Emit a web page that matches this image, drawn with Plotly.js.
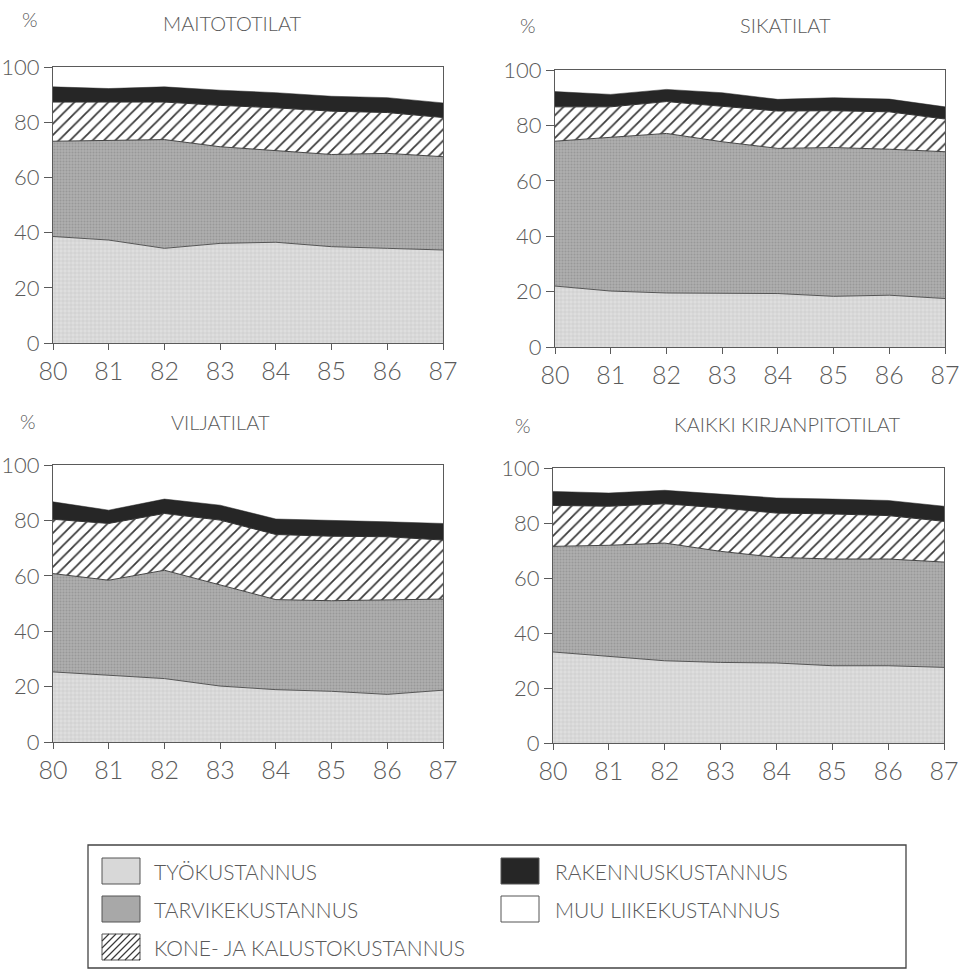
<!DOCTYPE html>
<html><head><meta charset="utf-8">
<script src="https://cdn.plot.ly/plotly-3.0.1.min.js"></script>
<style>html,body{margin:0;padding:0;background:#fff}</style>
</head><body><div id="chart" style="width:964px;height:971px"></div>
<script>
// ---- data ----
const years = [80, 81, 82, 83, 84, 85, 86, 87];
const yTicks = [0, 20, 40, 60, 80, 100];
const panelTitles = ["MAITOTOTILAT", "SIKATILAT", "VILJATILAT", "KAIKKI KIRJANPITOTILAT"];
const seriesNames = ["TYÖKUSTANNUS", "TARVIKEKUSTANNUS", "KONE- JA KALUSTOKUSTANNUS", "RAKENNUSKUSTANNUS", "MUU LIIKEKUSTANNUS"];

// shares of total costs, % (MAITOTOTILAT)
const maitoTyo      = [38.6, 37.3, 34.3, 36.1, 36.5, 34.9, 34.3, 33.7];
const maitoTarvike  = [34.5, 36.0, 39.4, 35.0, 33.1, 33.4, 34.4, 33.8];
const maitoKone     = [14.2, 14.0, 13.6, 15.0, 15.6, 15.7, 14.8, 14.2];
const maitoRakennus = [5.5, 4.9, 5.5, 5.5, 5.5, 5.4, 5.4, 5.3];
const maitoMuu      = [7.2, 7.8, 7.2, 8.4, 9.3, 10.6, 11.1, 13.0];
// SIKATILAT
const sikaTyo      = [22.0, 20.2, 19.5, 19.3, 19.3, 18.3, 18.7, 17.5];
const sikaTarvike  = [52.3, 55.5, 57.6, 54.8, 52.4, 53.7, 52.7, 53.0];
const sikaKone     = [12.4, 11.0, 11.5, 12.9, 13.5, 13.3, 13.5, 11.8];
const sikaRakennus = [5.5, 4.5, 4.4, 4.8, 4.2, 4.7, 4.6, 4.4];
const sikaMuu      = [7.8, 8.8, 7.0, 8.2, 10.6, 10.0, 10.5, 13.3];
// VILJATILAT
const viljaTyo      = [25.3, 24.1, 22.9, 20.2, 18.9, 18.3, 17.2, 18.7];
const viljaTarvike  = [35.5, 34.3, 39.1, 36.4, 32.5, 32.7, 34.0, 32.9];
const viljaKone     = [19.6, 20.5, 20.5, 23.5, 23.5, 23.3, 22.9, 21.3];
const viljaRakennus = [6.3, 4.8, 5.2, 5.4, 5.6, 5.8, 5.4, 6.0];
const viljaMuu      = [13.3, 16.3, 12.3, 14.5, 19.5, 19.9, 20.5, 21.1];
// KAIKKI KIRJANPITOTILAT
const kaikkiTyo      = [33.1, 31.5, 29.9, 29.3, 29.1, 28.1, 28.1, 27.5];
const kaikkiTarvike  = [38.4, 40.4, 42.8, 40.4, 38.4, 38.8, 38.8, 38.3];
const kaikkiKone     = [14.9, 14.2, 14.3, 15.8, 16.1, 16.4, 15.8, 14.8];
const kaikkiRakennus = [5.1, 4.8, 4.9, 5.0, 5.5, 5.4, 5.5, 5.5];
const kaikkiMuu      = [8.5, 9.1, 8.1, 9.5, 10.9, 11.3, 11.8, 13.9];

const panels = [
  [maitoTyo, maitoTarvike, maitoKone, maitoRakennus, maitoMuu],
  [sikaTyo, sikaTarvike, sikaKone, sikaRakennus, sikaMuu],
  [viljaTyo, viljaTarvike, viljaKone, viljaRakennus, viljaMuu],
  [kaikkiTyo, kaikkiTarvike, kaikkiKone, kaikkiRakennus, kaikkiMuu]
];

// ---- styling ----
const W = 964, H = 971;
const F = "Lato, 'Open Sans', Roboto, 'DejaVu Sans', sans-serif";
const TXT = '#5a5a5a';
const AX = '#5a5a5a';
const px = v => v / W, py = v => 1 - v / H;

const styles = [
  {fillcolor: '#dcdcdc', fillpattern: {shape: '+', size: 4, solidity: 0.25, bgcolor: '#dedede', fgcolor: '#c4c4c4'}, line: {color: '#555', width: 1}},
  {fillcolor: '#aaaaaa', fillpattern: {shape: '.', size: 3, solidity: 0.35, bgcolor: '#afafaf', fgcolor: '#989898'}, line: {color: '#444', width: 1}},
  {fillcolor: '#ffffff', fillpattern: {shape: '/', size: 8, solidity: 0.22, bgcolor: '#ffffff', fgcolor: '#3a3a3a'}, line: {color: '#333', width: 1}},
  {fillcolor: '#262626', line: {color: '#262626', width: 0.5}},
  {fillcolor: 'rgba(255,255,255,0)', line: {width: 0}}
];

// panel boxes in pixels [x0, x1, yTop, yBottom]
const boxes = [[53, 443, 67, 343], [555, 945, 70, 347], [53, 443, 465, 742], [553, 944, 468, 743]];
const titlePos = [[232, 23], [785, 25], [220, 422], [787, 424]];
const pctPos = [[30, 19], [528, 25], [28, 421], [523, 425]];

const traces = [];
const layout = {
  width: W, height: H, margin: {l: 0, r: 0, t: 0, b: 0},
  paper_bgcolor: '#fff', plot_bgcolor: '#fff', showlegend: false,
  annotations: [], shapes: []
};

panels.forEach((series, p) => {
  const sfx = p === 0 ? '' : String(p + 1);
  series.forEach((vals, s) => {
    traces.push(Object.assign({
      type: 'scatter', mode: 'lines', x: years, y: vals, name: seriesNames[s],
      stackgroup: 'g' + p, xaxis: 'x' + sfx, yaxis: 'y' + sfx, hoverinfo: 'skip'
    }, JSON.parse(JSON.stringify(styles[s]))));
  });
  const b = boxes[p];
  layout['xaxis' + sfx] = {
    domain: [px(b[0]), px(b[1])], anchor: 'y' + sfx, range: [80, 87],
    tickvals: years, ticktext: years.map(String), ticks: 'outside', ticklen: 6,
    tickcolor: AX, tickwidth: 1, showline: true, mirror: true, linecolor: AX, linewidth: 1,
    showgrid: false, zeroline: false, fixedrange: true,
    tickfont: {family: F, size: 25, color: TXT, weight: 300}
  };
  layout['yaxis' + sfx] = {
    domain: [py(b[3]), py(b[2])], anchor: 'x' + sfx, range: [0, 100],
    tickvals: yTicks, ticks: 'outside', ticklen: 8,
    tickcolor: AX, tickwidth: 1, showline: true, mirror: true, linecolor: AX, linewidth: 1,
    showgrid: false, zeroline: false, fixedrange: true,
    tickfont: {family: F, size: 22, color: TXT, weight: 300}
  };
  layout.annotations.push({
    xref: 'paper', yref: 'paper', x: px(titlePos[p][0]), y: py(titlePos[p][1]),
    xanchor: 'center', yanchor: 'middle', showarrow: false, text: panelTitles[p],
    font: {family: F, size: 20, color: TXT, weight: 300}
  });
  layout.annotations.push({
    xref: 'paper', yref: 'paper', x: px(pctPos[p][0]), y: py(pctPos[p][1]),
    xanchor: 'center', yanchor: 'middle', showarrow: false, text: '%',
    font: {family: F, size: 20, color: TXT, weight: 300}
  });
});

// ---- legend (drawn as a boxed key below the panels) ----
const legBox = [88, 906, 845, 968];
layout.shapes.push({type: 'rect', xref: 'paper', yref: 'paper',
  x0: px(legBox[0]), x1: px(legBox[1]), y0: py(legBox[3]), y1: py(legBox[2]),
  line: {color: '#444', width: 1.3}, fillcolor: 'rgba(0,0,0,0)', layer: 'above'});

const legendItems = [
  {s: 0, col: 0, row: 0}, {s: 1, col: 0, row: 1}, {s: 2, col: 0, row: 2},
  {s: 3, col: 1, row: 0}, {s: 4, col: 1, row: 1}
];
const colSwX = [102, 501], colTxtX = [152, 553];
const rowTop = [858, 896, 934];
const swW = 38, swH = 26;
const swFill = ['#d8d8d8', '#a8a8a8', '#ffffff', '#262626', '#ffffff'];

legendItems.forEach(it => {
  const x0 = colSwX[it.col], y0 = rowTop[it.row];
  const x1 = x0 + swW, y1 = y0 + swH;
  layout.shapes.push({type: 'rect', xref: 'paper', yref: 'paper',
    x0: px(x0), x1: px(x1), y0: py(y1), y1: py(y0),
    line: {color: '#555', width: 1}, fillcolor: swFill[it.s]});
  if (it.s === 2) {
    // diagonal hatching clipped to swatch
    let d = '';
    const step = 7;
    for (let c = x0 - swH; c < x1; c += step) {
      let ax = c, ay = y1, bx = c + swH, by = y0;
      if (ax < x0) { ay -= (x0 - ax); ax = x0; }
      if (bx > x1) { by += (bx - x1); bx = x1; }
      if (ax >= bx) continue;
      d += `M${px(ax)},${py(ay)}L${px(bx)},${py(by)}`;
    }
    layout.shapes.push({type: 'path', xref: 'paper', yref: 'paper', path: d,
      line: {color: '#3a3a3a', width: 1.2}});
  }
  layout.annotations.push({
    xref: 'paper', yref: 'paper', x: px(colTxtX[it.col]), y: py(y0 + swH / 2),
    xanchor: 'left', yanchor: 'middle', showarrow: false, text: seriesNames[it.s],
    font: {family: F, size: 21, color: TXT, weight: 300}
  });
});

Plotly.newPlot('chart', traces, layout, {staticPlot: true, displayModeBar: false});
</script>
</body></html>
